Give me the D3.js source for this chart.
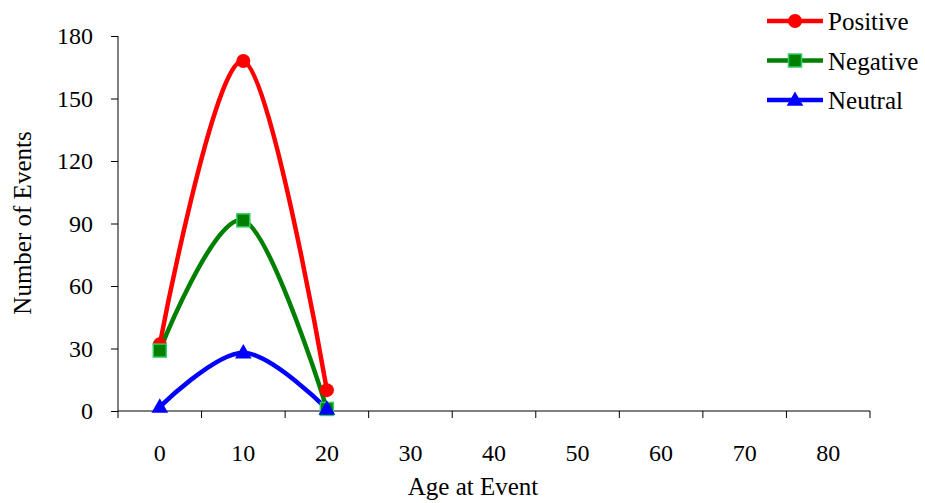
<!DOCTYPE html>
<html><head><meta charset="utf-8">
<script src="https://cdn.jsdelivr.net/npm/d3@7"></script>
<style>body{margin:0;background:#fff}svg{display:block}text{font-family:"Liberation Serif","Times New Roman",serif;fill:#000}</style>
</head><body>
<script>
const categories = [0,10,20,30,40,50,60,70,80];
const positive = [32,168,10];
const negative = [29,91.5,1];
const neutral = [2,28,1];
const yTicks = [0,30,60,90,120,150,180];

(function(){
const W=925,H=503;
const svg=d3.select("body").append("svg").attr("width",W).attr("height",H);
const pL=118,pR=870,pT=36,pB=411;
const x=d3.scaleBand().domain(categories).range([pL,pR]);
const y=d3.scaleLinear().domain([0,180]).range([pB,pT]);
const xc=c=>x(c)+x.bandwidth()/2;

// y axis
const ya=svg.append("g").attr("transform",`translate(${pL},0)`)
 .call(d3.axisLeft(y).tickValues(yTicks).tickSize(7).tickPadding(18));
ya.select(".domain").attr("d",`M0,${pT}V${pB}`).attr("stroke","#000");
ya.selectAll(".tick line").attr("stroke","#000");
ya.selectAll("text").style("font-size","24px").style("font-family","Liberation Serif");
// x axis
const xa=svg.append("g").attr("transform",`translate(0,${pB})`);
xa.append("line").attr("x1",pL).attr("x2",pR).attr("stroke","#000");
const bounds=categories.map(c=>x(c)).concat([pR]);
xa.selectAll(".tk").data(bounds).join("line").attr("x1",d=>d).attr("x2",d=>d).attr("y1",0).attr("y2",7).attr("stroke","#000");
xa.selectAll(".lb").data(categories).join("text").attr("x",d=>xc(d)).attr("y",50)
 .attr("text-anchor","middle").style("font-size","24px").text(d=>d);

svg.append("text").attr("transform",`translate(31,223) rotate(-90)`).attr("text-anchor","middle")
 .style("font-size","25px").text("Number of Events");
svg.append("text").attr("x",473).attr("y",495).attr("text-anchor","middle").style("font-size","25px").text("Age at Event");

const series=[
 {name:"Positive",vals:positive,color:"#ff0000",marker:"circle"},
 {name:"Negative",vals:negative,color:"#008000",marker:"square"},
 {name:"Neutral",vals:neutral,color:"#0000ff",marker:"triangle"}
];
const line=d3.line().x((d,i)=>xc(categories[i])).y(d=>y(d)).curve(d3.curveCardinal.tension(0));
function marker(g,s,cx,cy){
 if(s.marker==="circle") g.append("circle").attr("cx",cx).attr("cy",cy).attr("r",7).attr("fill",s.color);
 else if(s.marker==="square") g.append("rect").attr("x",cx-6.5).attr("y",cy-6.5).attr("width",13).attr("height",13).attr("fill",s.color).attr("stroke","#33cc66").attr("stroke-width",1.5);
 else g.append("path").attr("d",d3.symbol(d3.symbolTriangle,120)()).attr("transform",`translate(${cx},${cy+1})`).attr("fill",s.color);
}
series.forEach(s=>{
 svg.append("path").datum(s.vals).attr("d",line).attr("fill","none").attr("stroke",s.color).attr("stroke-width",4.5);
});
series.forEach(s=>{
 const g=svg.append("g");
 s.vals.forEach((v,i)=>marker(g,s,xc(categories[i]),y(v)));
});
// legend
series.forEach((s,i)=>{
 const ly=21+i*39.5;
 const g=svg.append("g");
 g.append("line").attr("x1",767).attr("x2",823).attr("y1",ly).attr("y2",ly).attr("stroke",s.color).attr("stroke-width",4.5);
 marker(g,s,795,ly);
 g.append("text").attr("x",828).attr("y",ly+9).style("font-size","25px").text(s.name);
});
})();
</script>
</body></html>
